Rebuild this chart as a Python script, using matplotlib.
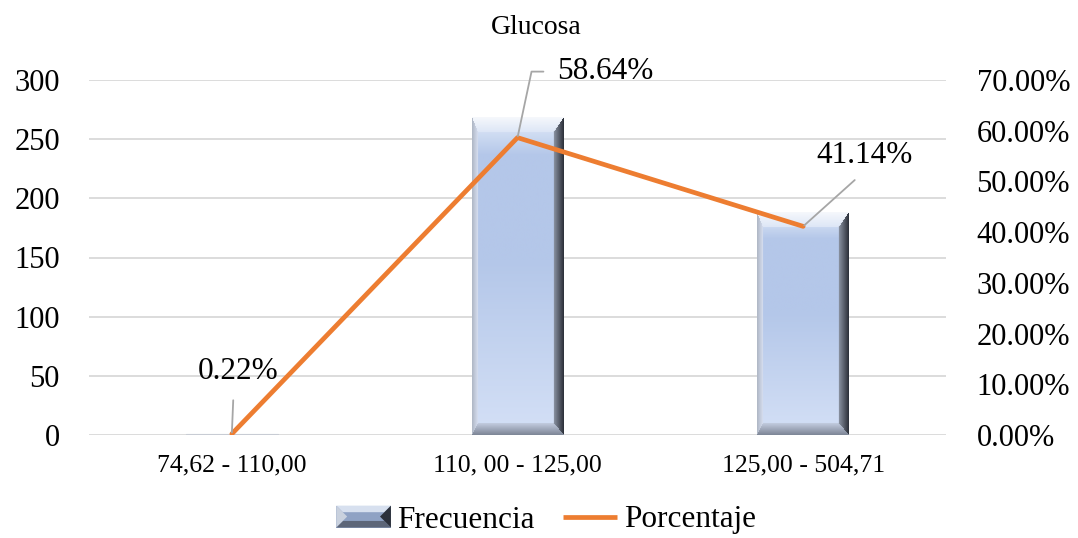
import numpy as np
import matplotlib.pyplot as plt
from matplotlib.colors import to_rgb
from matplotlib.patches import Rectangle, Polygon
from matplotlib.legend_handler import HandlerBase
from matplotlib.lines import Line2D

plt.rcParams['font.family'] = ['Liberation Serif', 'DejaVu Serif']

categories = ['74,62 - 110,00', '110, 00 - 125,00', '125,00 - 504,71']
frecuencia = [1, 268, 188]
porcentaje = [0.22, 58.64, 41.14]
pct_labels = ['0.22%', '58.64%', '41.14%']

orange = '#ed7d31'
grid_c = '#d9d9d9'


def mix(c1, c2, t):
    a = np.array(to_rgb(c1))
    b = np.array(to_rgb(c2))
    t = np.clip(t, 0, 1)[..., None]
    return a * (1 - t) + b * t


def bevel_image(w, h):
    w = max(int(round(w)), 2)
    h = max(int(round(h)), 2)
    yy, xx = np.mgrid[0:h, 0:w] + 0.5
    ty = yy / h
    # interior vertical gradient
    img = np.where((ty < 0.12)[..., None],
                   mix('#e4ecf9', '#b4c7e9', ty / 0.12),
                   mix('#b4c7e9', '#d4e0f6', (ty - 0.45) / 0.55 * (ty > 0.45)))
    bl, br, bt, bb = 6.0, 10.0, 15.0, 12.0
    dl = xx / bl
    dr = (w - xx) / br
    dt = yy / bt
    db = (h - yy) / bb
    d = np.stack([dl, dr, dt, db])
    m = d.min(axis=0)
    reg = d.argmin(axis=0)
    edge = m < 1
    cols = [mix('#aeb6c4', '#d6def0', m),    # left
            mix('#2a2e37', '#8a93a2', m),    # right
            mix('#f6f8fc', '#dde6f6', m),    # top
            mix('#7d8595', '#c3cde0', m)]    # bottom
    for k in range(4):
        sel = edge & (reg == k)
        img[sel] = cols[k][sel]
    return img


class BevelHandler(HandlerBase):
    def create_artists(self, legend, orig_handle, xd, yd, width, height, fontsize, trans):
        x0, y0 = -xd, -yd
        b = height * 0.3
        arts = [Rectangle((x0, y0), width, height, facecolor='#8fa2c4', edgecolor='none', transform=trans)]
        arts.append(Polygon([(x0, y0 + height), (x0 + width, y0 + height),
                             (x0 + width - b, y0 + height - b), (x0 + b, y0 + height - b)],
                            facecolor='#d7e0ef', edgecolor='none', transform=trans))
        arts.append(Polygon([(x0, y0), (x0 + width, y0),
                             (x0 + width - b, y0 + b), (x0 + b, y0 + b)],
                            facecolor='#5d6678', edgecolor='none', transform=trans))
        arts.append(Polygon([(x0, y0), (x0, y0 + height), (x0 + height / 2, y0 + height / 2)],
                            facecolor='#c9d1de', edgecolor='none', transform=trans))
        arts.append(Polygon([(x0 + width, y0), (x0 + width, y0 + height),
                             (x0 + width - height / 2, y0 + height / 2)],
                            facecolor='#2c313b', edgecolor='none', transform=trans))
        return arts


fig = plt.figure(figsize=(10.78, 5.38), dpi=100)
ax = fig.add_axes([89 / 1078, 1 - 435 / 538, (946 - 89) / 1078, (435 - 80) / 538])
ax2 = ax.twinx()

x = np.arange(len(categories))
bar_w = 0.32
ax.set_xlim(-0.5, 2.5)
ax.set_ylim(0, 300)
ax2.set_ylim(0, 70)

bars = ax.bar(x, frecuencia, width=bar_w, color='none', edgecolor='none', zorder=2)
for rect in bars:
    bx, bw, bh = rect.get_x(), rect.get_width(), rect.get_height()
    p0 = ax.transData.transform((bx, 0))
    p1 = ax.transData.transform((bx + bw, bh))
    pw, ph = p1[0] - p0[0], p1[1] - p0[1]
    if ph < 3:
        ax.add_patch(Rectangle((bx, 0), bw, bh, facecolor='#c8ccd4', edgecolor='#c8ccd4', lw=0.8, zorder=2))
        continue
    ax.imshow(bevel_image(pw, ph), extent=(bx, bx + bw, 0, bh), origin='upper',
              aspect='auto', interpolation='bilinear', zorder=2)
ax.set_xlim(-0.5, 2.5)
ax.set_ylim(0, 300)

ax.set_yticks(np.arange(0, 301, 50))
ax.yaxis.grid(True, color=grid_c, lw=1.3)
ax.set_axisbelow(True)
ax.set_xticks(x)
ax.set_xticklabels(categories, fontsize=18.5)
ax.tick_params(axis='x', length=0, pad=14)
ax.tick_params(axis='y', length=0, pad=21, labelsize=22)

ax2.plot(x, porcentaje, color=orange, lw=3.4, solid_capstyle='round', solid_joinstyle='round', zorder=3)
ax2.set_yticks(np.arange(0, 71, 10))
ax2.set_yticklabels([f'{v:.2f}%' for v in np.arange(0, 71, 10)])
ax2.tick_params(axis='y', length=0, pad=22, labelsize=22)

for a in (ax, ax2):
    for s in a.spines.values():
        s.set_visible(False)

# data labels with leader lines
offsets = [(6, 62), (88, 66), (61, 71)]
styles = ['arc3', 'angle,angleA=180,angleB=78,rad=0', 'arc3']
relpos = [(0.45, 0), (0, 0.5), (0.52, 0)]
shrinkA = [8, 8, 8]
for i, (lab, off) in enumerate(zip(pct_labels, offsets)):
    ax2.annotate(lab, xy=(x[i], porcentaje[i]), xytext=off, textcoords='offset pixels',
                 ha='center', va='center', fontsize=22.5,
                 arrowprops=dict(arrowstyle='-', color='#a6a6a6', lw=1.3,
                                 connectionstyle=styles[i], relpos=relpos[i],
                                 shrinkA=shrinkA[i], shrinkB=1))

fig.text(536 / 1078, 1 - 28 / 538, 'Glucosa', ha='center', va='center', fontsize=20)

handles = [Rectangle((0, 0), 1, 1), Line2D([], [], color=orange, lw=3.4, solid_capstyle='butt')]
fig.legend(handles, ['Frecuencia', 'Porcentaje'], loc='center',
           bbox_to_anchor=(546 / 1078, 1 - 520 / 538), ncol=2, frameon=False,
           fontsize=22.5, handlelength=1.75, handletextpad=0.2, columnspacing=0.9,
           handler_map={Rectangle: BevelHandler()})

fig.savefig('out.png', dpi=100)
